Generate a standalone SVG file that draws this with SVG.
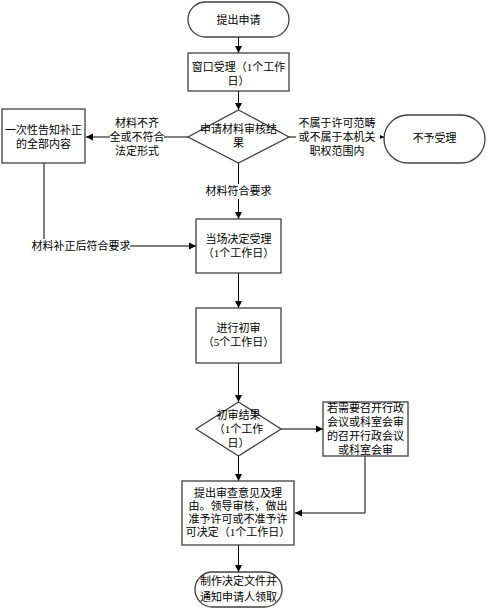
<svg xmlns="http://www.w3.org/2000/svg" width="488" height="612" viewBox="0 0 488 612">
<style>
.s{fill:#fff;stroke:#404040;stroke-width:1.3}
.c{fill:none;stroke:#000;stroke-width:1}
text{font-family:"Liberation Serif","Noto Sans CJK SC",serif;font-size:11px;fill:#000;text-anchor:middle;dominant-baseline:central}
.lb{fill:#fff;stroke:none}
</style>
<defs>
<marker id="a" markerWidth="8" markerHeight="8" refX="7" refY="4" orient="auto" markerUnits="userSpaceOnUse">
<path d="M0,0.5 L7,4 L0,7.5 Z" fill="#000"/>
</marker>
</defs>
<rect width="488" height="612" fill="#fff"/>
<g id="connectors">
<line class="c" x1="238.5" y1="37" x2="238.5" y2="53" marker-end="url(#a)"/>
<line class="c" x1="238.5" y1="91" x2="238.5" y2="110" marker-end="url(#a)"/>
<line class="c" x1="188" y1="137" x2="86" y2="137" marker-end="url(#a)"/>
<line class="c" x1="289" y1="137" x2="384" y2="137" marker-end="url(#a)"/>
<line class="c" x1="238.5" y1="163" x2="238.5" y2="219" marker-end="url(#a)"/>
<polyline class="c" points="44,163 44,246 196,246" stroke="#666" marker-end="url(#a)"/>
<line class="c" x1="238.5" y1="273" x2="238.5" y2="308" marker-end="url(#a)"/>
<line class="c" x1="238.5" y1="363" x2="238.5" y2="402" marker-end="url(#a)"/>
<line class="c" x1="281" y1="429" x2="323" y2="429" marker-end="url(#a)"/>
<polyline class="c" points="365,456 365,513 295,513" marker-end="url(#a)"/>
<line class="c" x1="238.5" y1="456" x2="238.5" y2="481" marker-end="url(#a)"/>
<line class="c" x1="238.5" y1="545" x2="238.5" y2="572" marker-end="url(#a)"/>
<rect class="lb" x="110" y="116" width="54" height="43"/>
<text x="137" y="123">材料不齐</text>
<text x="137" y="137">全或不符合</text>
<text x="137" y="151">法定形式</text>
<rect class="lb" x="296" y="116" width="84" height="43"/>
<text x="337" y="123">不属于许可范畴</text>
<text x="337" y="137">或不属于本机关</text>
<text x="337" y="151">职权范围内</text>
<rect class="lb" x="203" y="184" width="72" height="15"/>
<text x="238.5" y="191">材料符合要求</text>
<rect class="lb" x="33" y="239" width="97" height="15"/>
<text x="81" y="246">材料补正后符合要求</text>
</g>
<g id="start">
<rect class="s" x="188" y="2" width="101" height="35" rx="17.5"/>
<text x="238.5" y="19.5">提出申请</text>
</g>
<g id="window">
<rect class="s" x="188" y="53" width="101" height="38"/>
<text x="238.5" y="67">窗口受理（1个工作</text>
<text x="238.5" y="81">日）</text>
</g>
<g id="review">
<polygon class="s" points="238.5,110 289,137 238.5,163 188,137"/>
<text x="238.5" y="129">申请材料审核结</text>
<text x="238.5" y="143">果</text>
</g>
<g id="notify">
<rect class="s" x="2" y="109" width="83" height="54"/>
<text x="43.5" y="130">一次性告知补正</text>
<text x="43.5" y="144">的全部内容</text>
</g>
<g id="reject">
<rect class="s" x="384" y="115" width="101" height="48" rx="24"/>
<text x="434.5" y="138">不予受理</text>
</g>
<g id="accept">
<rect class="s" x="196" y="219" width="85" height="54"/>
<text x="238.5" y="239">当场决定受理</text>
<text x="238.5" y="253">（1个工作日）</text>
</g>
<g id="prelim">
<rect class="s" x="196" y="308" width="85" height="55"/>
<text x="238.5" y="328">进行初审</text>
<text x="238.5" y="342">（5个工作日）</text>
</g>
<g id="result">
<polygon class="s" points="238.5,402 281,429 238.5,456 196,429"/>
<text x="238.5" y="415">初审结果</text>
<text x="238.5" y="429">（1个工作</text>
<text x="238.5" y="443">日）</text>
</g>
<g id="meeting">
<rect class="s" x="323" y="402" width="85" height="54"/>
<text x="365.5" y="408">若需要召开行政</text>
<text x="365.5" y="422">会议或科室会审</text>
<text x="365.5" y="436">的召开行政会议</text>
<text x="365.5" y="450">或科室会审</text>
</g>
<g id="decide">
<rect class="s" x="182" y="481" width="112" height="64"/>
<text x="238" y="493">提出审查意见及理</text>
<text x="238" y="506">由。领导审核，做出</text>
<text x="238" y="519">准予许可或不准予许</text>
<text x="238" y="532">可决定（1个工作日）</text>
</g>
<g id="end">
<rect class="s" x="195" y="572" width="87" height="35" rx="17.5"/>
<text x="238.5" y="581">制作决定文件并</text>
<text x="238.5" y="597">通知申请人领取</text>
</g>
</svg>
